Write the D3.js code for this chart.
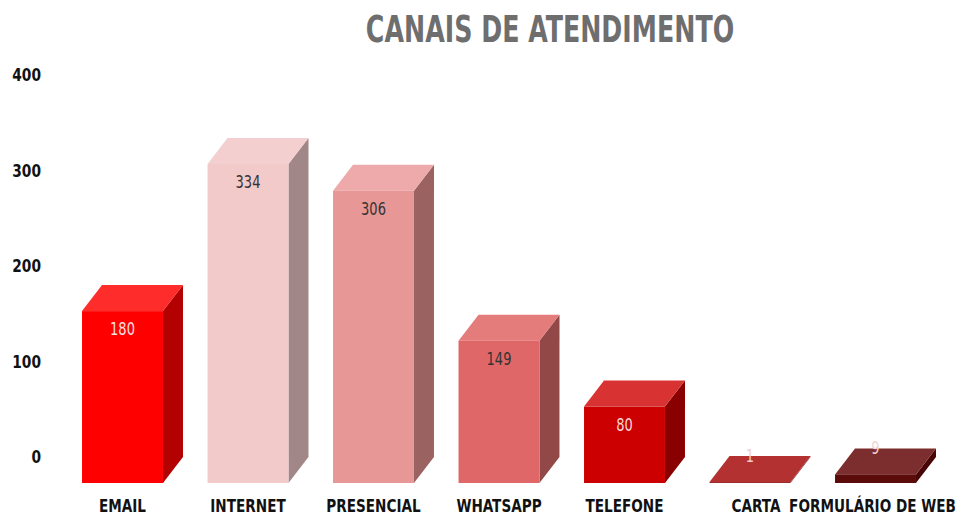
<!DOCTYPE html>
<html>
<head>
<meta charset="utf-8">
<script src="https://cdn.jsdelivr.net/npm/d3@7"></script>
<style>
  body { margin: 0; background: #fff; }
  text { font-family: "DejaVu Sans Condensed", "DejaVu Sans", sans-serif; }
</style>
</head>
<body>
<div id="chart"></div>
<script>
const width = 962;
const height = 517;

const categories = ["EMAIL", "INTERNET", "PRESENCIAL", "WHATSAPP", "TELEFONE", "CARTA", "FORMULÁRIO DE WEB"];
const values = [180, 334, 306, 149, 80, 1, 9];
const yTicks = [0, 100, 200, 300, 400];
const frontColors = ["#fe0000", "#f2caca", "#e89797", "#e06767", "#cc0000", "#9a2020", "#5c0b0b"];
const topColors = ["#ff2c2c", "#f3cfcf", "#eeaaaa", "#e47c7c", "#d93232", "#b43131", "#7c2e2e"];
const sideColors = ["#b30000", "#a28788", "#9b6262", "#934848", "#8a0000", "#7a1515", "#480606"];
const labelColors = ["#fbe0e0", "#333333", "#333333", "#333333", "#f6dada", "#f3d0d0", "#f0d6d6"];

// depth of the 3d effect
const dx = 20, dy = -26;
// narrow look for the condensed labels
const squeeze = 0.84;

const data = categories.map((c, i) => ({ cat: c, value: values[i], i }));

const svg = d3.select("#chart")
    .append("svg")
    .attr("width", width)
    .attr("height", height);

const xScale = d3.scaleBand()
    .domain(categories)
    .range([59.75, 938.25])
    .paddingInner(0.355)
    .paddingOuter(0.1775);

const yScale = d3.scaleLinear()
    .domain([0, 400])
    .range([483, 101]);

svg.append("g")
    .attr("transform", "translate(550, 42)")
    .append("text")
    .attr("transform", "scale(0.76, 1)")
    .attr("text-anchor", "middle")
    .attr("font-size", 37)
    .attr("font-weight", "bold")
    .attr("fill", "#6e6e6e")
    .text("CANAIS DE ATENDIMENTO");

// y axis labels sit on the back plane
const yAxis = d3.axisLeft(yScale).tickValues(yTicks).tickSize(0).tickPadding(0);
const gy = svg.append("g")
    .attr("transform", `translate(41, ${dy})`)
    .call(yAxis);
gy.select(".domain").remove();
gy.selectAll("text")
    .attr("font-family", null)
    .attr("font-size", 18)
    .attr("font-weight", "bold")
    .attr("fill", "#111")
    .attr("transform", "scale(0.85, 1)");

const bars = svg.selectAll(".bar")
    .data(data)
    .enter().append("g")
    .attr("class", "bar");

const bw = xScale.bandwidth();

bars.append("polygon")
    .attr("fill", d => sideColors[d.i])
    .attr("points", d => {
        const x1 = xScale(d.cat) + bw, t = yScale(d.value), b = yScale(0);
        return [[x1, t], [x1 + dx, t + dy], [x1 + dx, b + dy], [x1, b]].join(" ");
    });

bars.append("polygon")
    .attr("fill", d => topColors[d.i])
    .attr("points", d => {
        const x0 = xScale(d.cat), t = yScale(d.value);
        return [[x0, t], [x0 + dx, t + dy], [x0 + bw + dx, t + dy], [x0 + bw, t]].join(" ");
    });

bars.append("rect")
    .attr("x", d => xScale(d.cat))
    .attr("y", d => yScale(d.value))
    .attr("width", bw)
    .attr("height", d => yScale(0) - yScale(d.value))
    .attr("fill", d => frontColors[d.i]);

bars.append("g")
    .attr("transform", d => {
        const t = yScale(d.value);
        const y = yScale(0) - t < 30 ? t + dy + 6 : t + 24;
        return `translate(${xScale(d.cat) + bw / 2}, ${y})`;
    })
    .append("text")
    .attr("transform", "scale(0.85, 1)")
    .attr("text-anchor", "middle")
    .attr("font-size", 17)
    .attr("fill", d => labelColors[d.i])
    .text(d => d.value);

svg.selectAll(".cat")
    .data(data)
    .enter().append("g")
    .attr("class", "cat")
    .attr("transform", d => `translate(${xScale(d.cat) + bw / 2 + (d.i === 5 ? 6 : d.i === 6 ? -3 : 0)}, 512)`)
    .append("text")
    .attr("transform", `scale(${squeeze}, 1)`)
    .attr("text-anchor", "middle")
    .attr("font-size", 18)
    .attr("font-weight", "bold")
    .attr("fill", "#111")
    .text(d => d.cat);
</script>
</body>
</html>
